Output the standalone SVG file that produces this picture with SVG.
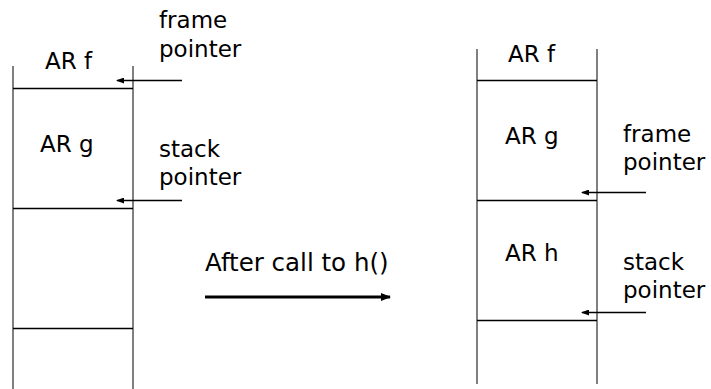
<svg xmlns="http://www.w3.org/2000/svg" width="711" height="389" viewBox="0 0 711 389">
<style>
text{font-family:"DejaVu Sans",Verdana,sans-serif;font-size:23px;fill:#000}
.side{stroke:#808080;stroke-width:2;fill:none}
.div{stroke:#000;stroke-width:1.3;fill:none}
.ptr{stroke:#000;stroke-width:1.3;fill:none}
.big{stroke:#000;stroke-width:3;fill:none}
</style>
<defs>
<marker id="ah" markerWidth="8" markerHeight="6" refX="7" refY="3" orient="auto" markerUnits="userSpaceOnUse">
<path d="M0,0 L8,3 L0,6 Z" fill="#000"/>
</marker>
<marker id="ahb" markerWidth="10" markerHeight="8" refX="9" refY="4" orient="auto" markerUnits="userSpaceOnUse">
<path d="M0,0 L10,4 L0,8 Z" fill="#000"/>
</marker>
</defs>
<g id="stack-before">
<line class="side" x1="13" y1="66" x2="13" y2="389"/>
<line class="side" x1="133" y1="66" x2="133" y2="389"/>
<line class="div" x1="13" y1="88.5" x2="133" y2="88.5"/>
<line class="div" x1="13" y1="208.5" x2="133" y2="208.5"/>
<line class="div" x1="13" y1="328.5" x2="133" y2="328.5"/>
<text x="45" y="69">AR f</text>
<text x="40" y="152">AR g</text>
</g>
<g id="labels-before">
<text x="159" y="28">frame</text>
<text x="159" y="57">pointer</text>
<text x="159" y="157">stack</text>
<text x="159" y="185">pointer</text>
</g>
<g id="transition">
<text x="205" y="271" style="font-size:24.5px">After call to h()</text>
</g>
<g id="stack-after">
<line class="side" x1="477" y1="49" x2="477" y2="384"/>
<line class="side" x1="597" y1="49" x2="597" y2="384"/>
<line class="div" x1="477" y1="80.5" x2="597" y2="80.5"/>
<line class="div" x1="477" y1="200.5" x2="597" y2="200.5"/>
<line class="div" x1="477" y1="320.5" x2="597" y2="320.5"/>
<text x="508" y="62">AR f</text>
<text x="505" y="144">AR g</text>
<text x="505" y="261">AR h</text>
</g>
<g id="labels-after">
<text x="623" y="142">frame</text>
<text x="623" y="170">pointer</text>
<text x="623" y="270">stack</text>
<text x="623" y="298">pointer</text>
</g>
<g id="connectors">
<line class="ptr" x1="182" y1="80.5" x2="117" y2="80.5" marker-end="url(#ah)"/>
<line class="ptr" x1="182" y1="200.5" x2="117" y2="200.5" marker-end="url(#ah)"/>
<line class="ptr" x1="646" y1="192.5" x2="582" y2="192.5" marker-end="url(#ah)"/>
<line class="ptr" x1="646" y1="312.5" x2="582" y2="312.5" marker-end="url(#ah)"/>
<line class="big" x1="205" y1="297" x2="390" y2="297" marker-end="url(#ahb)"/>
</g>
</svg>
